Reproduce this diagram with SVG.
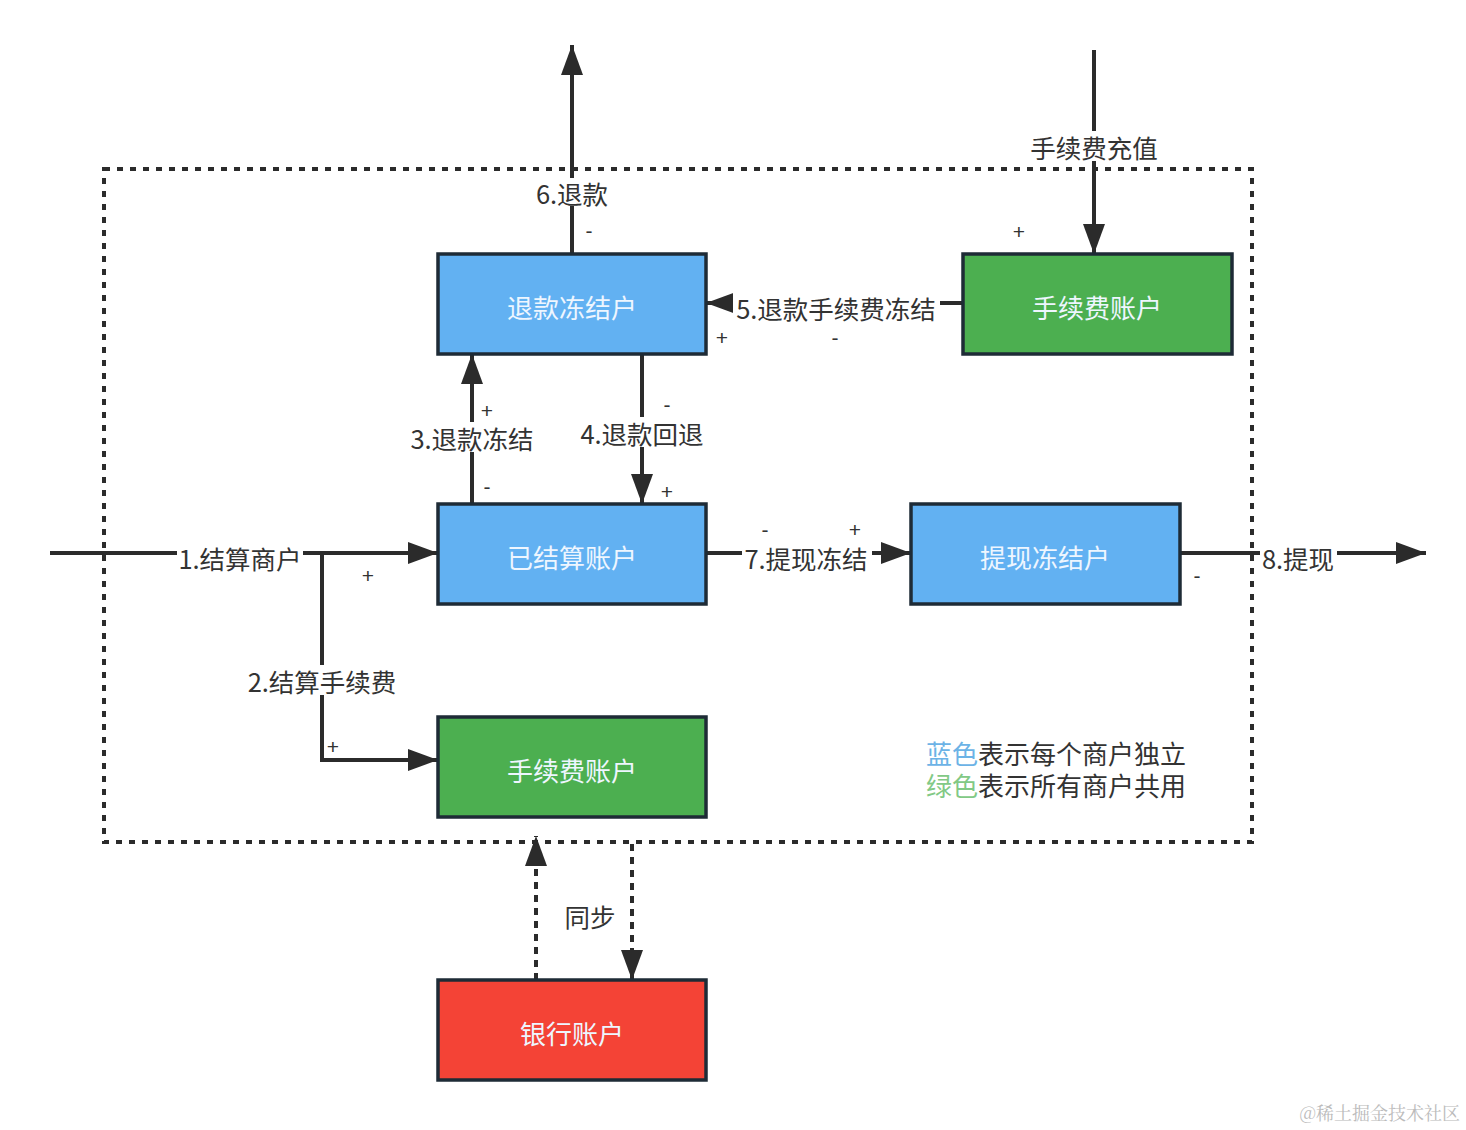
<svg xmlns="http://www.w3.org/2000/svg" width="1466" height="1130" viewBox="0 0 1466 1130">
<style>
.box{stroke:#1e2b36;stroke-width:3.5}
.blue{fill:#62b1f2}
.green{fill:#4caf50}
.red{fill:#f44336}
.nt{font-family:"Noto Sans CJK SC","Noto Sans",sans-serif;font-size:26px;fill:#eef6ff;text-anchor:middle;dominant-baseline:central}
.lbl{font-family:"Noto Sans CJK SC","Noto Sans",sans-serif;font-size:25.5px;fill:#333;text-anchor:middle;dominant-baseline:central}
.sgn{font-family:"Liberation Sans","Noto Sans",sans-serif;font-size:21px;fill:#333;text-anchor:middle;dominant-baseline:central}
.ln{stroke:#2b2b2b;stroke-width:4;fill:none}
.dl{stroke:#2b2b2b;stroke-width:4;fill:none;stroke-dasharray:7 6}
.bg{fill:#fff}
</style>
<defs>
<marker id="ah" markerUnits="userSpaceOnUse" markerWidth="30" markerHeight="22" refX="30" refY="11" orient="auto">
<path d="M0,0 L30,11 L0,22 z" fill="#2b2b2b"/>
</marker>
</defs>
<rect x="104" y="169" width="1148" height="673" fill="none" stroke="#2b2b2b" stroke-width="4" stroke-dasharray="6 7"/>
<g id="connectors">
<line class="ln" x1="572" y1="254" x2="572" y2="45" marker-end="url(#ah)"/>
<rect class="bg" x="532" y="178" width="80" height="28"/>
<text class="lbl" x="572" y="192">6.退款</text>
<text class="sgn" x="589" y="230">-</text>
<line class="ln" x1="1094" y1="50" x2="1094" y2="254" marker-end="url(#ah)"/>
<rect class="bg" x="1028" y="131" width="132" height="30"/>
<text class="lbl" x="1094" y="146">手续费充值</text>
<text class="sgn" x="1019" y="231">+</text>
<line class="ln" x1="963" y1="303" x2="706" y2="303" marker-end="url(#ah)"/>
<rect class="bg" x="733" y="292" width="207" height="30"/>
<text class="lbl" x="836" y="307">5.退款手续费冻结</text>
<text class="sgn" x="722" y="337">+</text>
<text class="sgn" x="835" y="337">-</text>
<line class="ln" x1="472" y1="504" x2="472" y2="354" marker-end="url(#ah)"/>
<rect class="bg" x="408" y="422" width="128" height="30"/>
<text class="lbl" x="472" y="437">3.退款冻结</text>
<text class="sgn" x="487" y="410">+</text>
<text class="sgn" x="487" y="486">-</text>
<line class="ln" x1="642" y1="354" x2="642" y2="504" marker-end="url(#ah)"/>
<rect class="bg" x="578" y="417" width="128" height="30"/>
<text class="lbl" x="642" y="432">4.退款回退</text>
<text class="sgn" x="667" y="404">-</text>
<text class="sgn" x="667" y="491">+</text>
<line class="ln" x1="50" y1="553" x2="438" y2="553" marker-end="url(#ah)"/>
<polyline class="ln" points="322,553 322,760 438,760" marker-end="url(#ah)"/>
<rect class="bg" x="177" y="542" width="126" height="30"/>
<text class="lbl" x="240" y="557">1.结算商户</text>
<text class="sgn" x="368" y="575">+</text>
<rect class="bg" x="245" y="665" width="154" height="30"/>
<text class="lbl" x="322" y="680">2.结算手续费</text>
<text class="sgn" x="333" y="746">+</text>
<line class="ln" x1="706" y1="553" x2="911" y2="553" marker-end="url(#ah)"/>
<rect class="bg" x="742" y="542" width="130" height="30"/>
<text class="lbl" x="806" y="557">7.提现冻结</text>
<text class="sgn" x="765" y="529">-</text>
<text class="sgn" x="855" y="529">+</text>
<line class="ln" x1="1180" y1="553" x2="1426" y2="553" marker-end="url(#ah)"/>
<rect class="bg" x="1260" y="542" width="77" height="30"/>
<text class="lbl" x="1298" y="557">8.提现</text>
<text class="sgn" x="1197" y="575">-</text>
<line class="dl" x1="536" y1="980" x2="536" y2="836" marker-end="url(#ah)"/>
<line class="dl" x1="632" y1="844" x2="632" y2="980" marker-end="url(#ah)"/>
<text class="lbl" x="590" y="915">同步</text>
</g>
<g id="n-refund-freeze"><rect class="box blue" x="438" y="254" width="268" height="100"/><text class="nt" x="572" y="306">退款冻结户</text></g>
<g id="n-fee-top"><rect class="box green" x="963" y="254" width="269" height="100"/><text class="nt" x="1097" y="306">手续费账户</text></g>
<g id="n-settled"><rect class="box blue" x="438" y="504" width="268" height="100"/><text class="nt" x="572" y="556">已结算账户</text></g>
<g id="n-withdraw-freeze"><rect class="box blue" x="911" y="504" width="269" height="100"/><text class="nt" x="1045" y="556">提现冻结户</text></g>
<g id="n-fee-bottom"><rect class="box green" x="438" y="717" width="268" height="100"/><text class="nt" x="572" y="769">手续费账户</text></g>
<g id="n-bank"><rect class="box red" x="438" y="980" width="268" height="100"/><text class="nt" x="572" y="1032">银行账户</text></g>
<g id="legend" font-family="Noto Sans CJK SC,Noto Sans,sans-serif" font-size="26" fill="#333">
<text x="926" y="764"><tspan fill="#6cb3e6">蓝色</tspan>表示每个商户独立</text>
<text x="926" y="796"><tspan fill="#82c985">绿色</tspan>表示所有商户共用</text>
</g>
<text x="1460" y="1120" text-anchor="end" font-family="Noto Serif CJK SC,Noto Sans CJK SC,serif" font-size="18" fill="#bbb">@稀土掘金技术社区</text>
</svg>
